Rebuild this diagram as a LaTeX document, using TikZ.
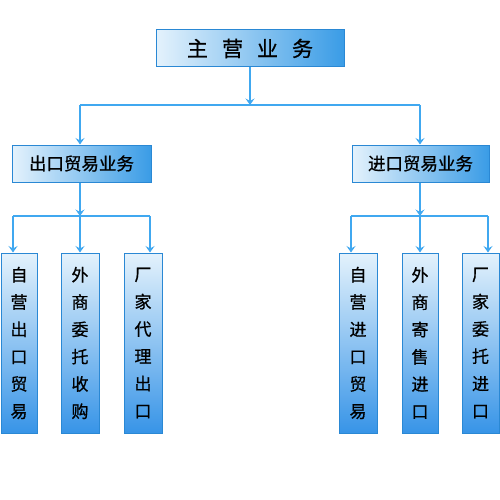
\documentclass[tikz,border=0pt]{standalone}
\usepackage{fontspec}
\newfontfamily\cjk[FakeBold=0.8]{Noto Sans CJK SC}
\usetikzlibrary{arrows.meta}
\definecolor{linec}{HTML}{40A8F0}
\definecolor{borderc}{HTML}{2A88D4}
\definecolor{lightc}{HTML}{E4F2FC}
\definecolor{darkc}{HTML}{3A9CE6}
\tikzset{
  hbox/.style={draw=borderc, line width=1pt, left color=lightc, right color=darkc,
    minimum height=37pt, inner sep=0pt, text=black},
  vbox/.style={draw=borderc, line width=1pt, top color=lightc, bottom color=darkc!95!blue,
    minimum width=37pt, minimum height=180pt, inner sep=0pt, align=center,
    font=\cjk\fontsize{17}{27.3}\selectfont},
  conn/.style={draw=linec, line width=2.2pt},
  arr/.style={conn, -{Stealth[length=6.5pt,width=9pt,inset=2.5pt]}},
}
\begin{document}
\begin{tikzpicture}[x=1pt,y=-1pt]
\useasboundingbox (0,0) rectangle (500,500);
\fill[white] (0,0) rectangle (500,500);
% nodes
\node[hbox, minimum width=188pt, font=\cjk\fontsize{21}{24}\selectfont] (top) at (250,48.5)
  {主\hspace{14pt}营\hspace{14pt}业\hspace{14pt}务};
\node[hbox, minimum width=139pt, font=\cjk\fontsize{17.5}{20}\selectfont] (exp) at (81.5,163.5) {出口贸易业务};
\node[hbox, minimum width=137pt, font=\cjk\fontsize{17.5}{20}\selectfont] (imp) at (420.5,163.5) {进口贸易业务};
\node[vbox, minimum width=36pt] (e1) at (19,343) {自\\营\\出\\口\\贸\\易};
\node[vbox, minimum width=38pt] (e2) at (80,343) {外\\商\\委\\托\\收\\购};
\node[vbox, minimum width=38pt] (e3) at (143,343) {厂\\家\\代\\理\\出\\口};
\node[vbox, minimum width=38pt] (i1) at (358,343) {自\\营\\进\\口\\贸\\易};
\node[vbox, minimum width=36pt] (i2) at (420,343) {外\\商\\寄\\售\\进\\口};
\node[vbox, minimum width=37pt] (i3) at (480.5,343) {厂\\家\\委\\托\\进\\口};
% junctions
\coordinate (j0) at (250,105);
\coordinate (j0L) at (80,105);
\coordinate (j0R) at (420,105);
\coordinate (jE) at (80,216);
\coordinate (jEL) at (13,216);
\coordinate (jER) at (150,216);
\coordinate (jI) at (420,216);
\coordinate (jIL) at (351,216);
\coordinate (jIR) at (488,216);
% connectors
\draw[arr] (top.south) -- (j0);
\draw[conn] (j0L) -- (j0R);
\draw[arr] (j0L) -- (j0L |- exp.north);
\draw[arr] (j0R) -- (j0R |- imp.north);
\draw[arr] (exp.south -| jE) -- (jE);
\draw[conn] (jEL) -- (jER);
\draw[arr] (jEL) -- (jEL |- e1.north);
\draw[arr] (jE) -- (jE |- e2.north);
\draw[arr] (jER) -- (jER |- e3.north);
\draw[arr] (imp.south -| jI) -- (jI);
\draw[conn] (jIL) -- (jIR);
\draw[arr] (jIL) -- (jIL |- i1.north);
\draw[arr] (jI) -- (jI |- i2.north);
\draw[arr] (jIR) -- (jIR |- i3.north);
\end{tikzpicture}
\end{document}
